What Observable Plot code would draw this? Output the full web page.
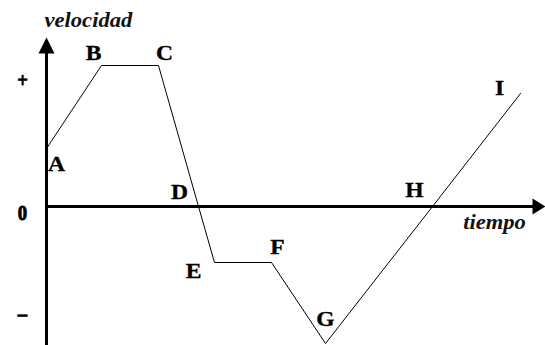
<!DOCTYPE html>
<html>
<head>
<meta charset="utf-8">
<script src="https://cdn.jsdelivr.net/npm/d3@7"></script>
<script src="https://cdn.jsdelivr.net/npm/@observablehq/plot@0.6"></script>
<style>
  html, body { margin: 0; padding: 0; background: #fff; }
  #chart svg { display: block; }
</style>
</head>
<body>
<div id="chart"></div>
<script>
// Data: velocity–time diagram (arbitrary units)
const pointLabels = ["A", "B", "C", "D", "E", "F", "G", "H", "I"];
const times      = [0, 5.5, 11.2, 15.2, 16.8, 22.5, 27.9, 38.6, 47.4];
const velocities = [5.8, 14.1, 14.1, 0, -5.6, -5.6, -13.7, 0, 11.3];

const tickValues = [13.3, 0, -10.1];
const tickLabels = ["+", "0", "–"];

const yTitle = "velocidad";
const xTitle = "tiempo";

// Scale extents
const tDomain = [-4.6, 49.9];
const vDomain = [-13.9, 20.6];

const points = pointLabels.map((label, i) => ({label, t: times[i], v: velocities[i]}));

// label offsets (px) relative to each point
const labelOffsets = {
  A: [10, 16], B: [-8, -12], C: [6, -12], D: [-19, -14], E: [-21, 9],
  F: [6, -15], G: [0, -24], H: [-18, -16], I: [-21, -5]
};

function arrowHead(len, halfW) {
  return {
    draw(ctx) {
      ctx.moveTo(0, 0);
      ctx.lineTo(-halfW, len);
      ctx.lineTo(halfW, len);
      ctx.closePath();
    }
  };
}

const font = "Liberation Serif, Times New Roman, serif";

const labelMarks = points.map(p => Plot.text([p], {
  x: "t", y: "v", text: "label",
  dx: labelOffsets[p.label][0], dy: labelOffsets[p.label][1],
  fontFamily: font, fontWeight: "bold", fontSize: 20, fill: "#000",
  stroke: "#000", strokeWidth: 0.3,
  className: "stretch-letter"
}));

const ticks = tickValues.map((v, i) => ({v, label: tickLabels[i]}));

const chart = Plot.plot({
  width: 545,
  height: 345,
  margin: 0,
  x: {domain: tDomain, range: [0, 545], axis: null},
  y: {domain: vDomain, range: [345, 0], axis: null},
  style: {background: "#fff", overflow: "visible"},
  marks: [
    // y axis
    Plot.link([{t: 0, v1: vDomain[0], v2: 15.5}], {x1: "t", x2: "t", y1: "v1", y2: "v2", stroke: "#000", strokeWidth: 3}),
    Plot.dot([{t: 0, v: 16.9}], {x: "t", y: "v", symbol: arrowHead(16, 8), fill: "#000", stroke: "none"}),
    // x axis
    Plot.link([{t1: 0, t2: 48.8, v: 0}], {x1: "t1", x2: "t2", y1: "v", y2: "v", stroke: "#000", strokeWidth: 3}),
    Plot.dot([{t: 49.9, v: 0}], {x: "t", y: "v", symbol: arrowHead(13, 8), rotate: 90, fill: "#000", stroke: "none"}),
    // velocity curve
    Plot.line(points, {x: "t", y: "v", stroke: "#000", strokeWidth: 1}),
    // point labels
    ...labelMarks,
    // tick labels
    Plot.text(ticks, {y: "v", text: "label", frameAnchor: "left", textAnchor: "middle", dx: 22, dy: 6,
      fontFamily: font, fontWeight: "bold", fontSize: 22, fill: "#000",
      stroke: "#000", strokeWidth: 0.9, className: "stretch-tick"}),
    // axis titles
    Plot.text([yTitle], {frameAnchor: "top-left", text: d => d, dx: 44, dy: 12,
      fontFamily: font, fontWeight: "bold", fontStyle: "italic", fontSize: 20, fill: "#111",
      className: "stretch-title"}),
    Plot.text([xTitle], {x: 44.8, y: 0, text: d => d, dy: 16,
      fontFamily: font, fontWeight: "bold", fontStyle: "italic", fontSize: 20, fill: "#111",
      className: "stretch-title"})
  ]
});

// widen glyphs horizontally to match the reference lettering
function stretch(selector, sx) {
  chart.querySelectorAll(selector + " text").forEach(el => {
    const tr = el.getAttribute("transform") || "";
    el.setAttribute("transform", `${tr} scale(${sx},1)`);
  });
}
stretch(".stretch-letter", 1.18);
stretch(".stretch-title", 1.13);
stretch(".stretch-tick", 0.85);

document.getElementById("chart").appendChild(chart);
</script>
</body>
</html>
